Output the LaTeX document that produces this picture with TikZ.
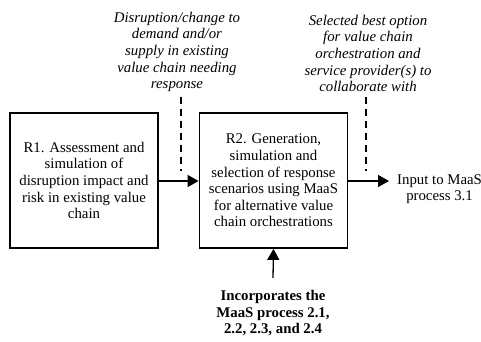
\documentclass[tikz,border=0pt]{standalone}
\usepackage{fontspec}
\setmainfont{Liberation Serif}
\usetikzlibrary{arrows.meta}
\begin{document}
\begin{tikzpicture}[x=1pt,y=-1pt,
  txt/.style={font=\fontsize{14.8}{16.6}\selectfont},
  procbox/.style={draw,line width=1.8pt,minimum width=148pt,minimum height=135pt,
    align=center,txt,inner sep=0pt},
  flow/.style={line width=1.3pt,-{Triangle[length=11pt,width=12pt]}},
  ctrl/.style={line width=1.1pt,dash pattern=on 7pt off 5pt},
  note/.style={align=center,txt,inner sep=0pt},
  plain/.style={align=center,txt,inner sep=0pt}]
\useasboundingbox (0,0) rectangle (481,342);
% process boxes
\node[procbox] (r1) at (84,180.5) {R1. Assessment and\\simulation of\\disruption impact and\\risk in existing value\\chain};
\node[procbox] (r2) at (273.5,180.5) {R2. Generation,\\simulation and\\selection of response\\scenarios using MaaS\\for alternative value\\chain orchestrations};
% control inputs above the boxes
\node[note,font=\fontsize{14.8}{16.6}\selectfont\itshape,anchor=south] (n1) at (177,92) {Disruption/change to\\demand and/or\\supply in existing\\value chain needing\\response};
\node[note,font=\fontsize{14.8}{16.6}\selectfont\itshape,anchor=south] (n2) at (368,92) {Selected best option\\for value chain\\orchestration and\\service provider(s) to\\collaborate with};
% output and mechanism
\node[plain,anchor=west] (out) at (397,189) {Input to MaaS\\process 3.1};
\node[plain,font=\fontsize{14.8}{16.6}\selectfont\bfseries,anchor=north] (inc) at (273,290) {Incorporates the\\MaaS process 2.1,\\2.2, 2.3, and 2.4};
\coordinate (d1a) at (181,97);
\coordinate (d1b) at (181,171);
\coordinate (d2a) at (366,97);
\coordinate (d2b) at (366,171);
\coordinate (outend) at (389,181);
\coordinate (incstart) at (273,278);
\draw[ctrl] (d1a) -- (d1b);
\draw[ctrl] (d2a) -- (d2b);
\draw[flow] (r1.east |- 0,181) -- (r2.west |- 0,181);
\draw[flow] (r2.east |- 0,181) -- (outend);
\draw[flow] (incstart) -- (r2.south);
\end{tikzpicture}
\end{document}
